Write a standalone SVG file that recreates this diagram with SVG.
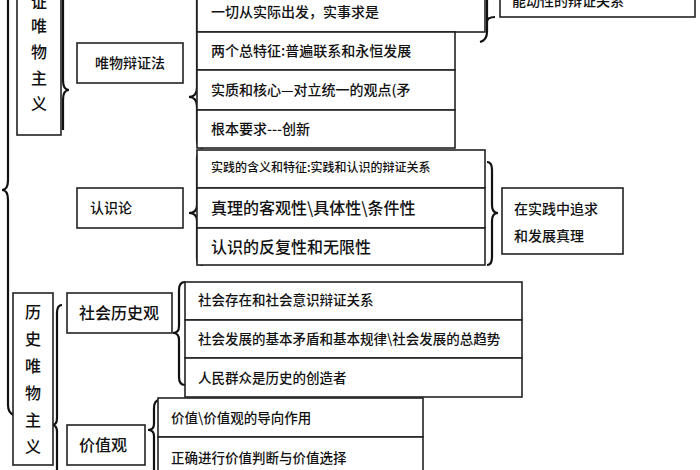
<svg xmlns="http://www.w3.org/2000/svg" width="700" height="470" viewBox="0 0 700 470">
<style>
.b{fill:#fff;stroke:#222;stroke-width:1.6}
.br{fill:none;stroke:#111;stroke-width:2.2}
text{font-family:"Noto Sans CJK SC","Noto Sans",sans-serif;fill:#111;font-size:14px;font-weight:500}
.s{font-size:12px}.m{font-size:13.5px}.l{font-size:16px}
</style>
<rect width="700" height="470" fill="#fff"/>
<g id="connectors">
<path class="br" d="M8,-5 V180 Q8,190 2,190 Q8,190 8,200 V405 Q8,413 14,415"/>
<path class="br" d="M63,-5 V80 Q63,90 69,90 Q63,90 63,100 V130"/>
<path class="br" d="M197,-5 V87 Q197,97 189,97 Q197,97 197,107 V140 Q197,148 203,148"/>
<path class="br" d="M197,158 Q197,152 203,152 M197,158 V205 Q197,213 189,213 Q197,213 197,221 V258 Q197,265 203,265"/>
<path class="br" d="M487,-5 V32 Q487,40 480,42 M487,22 Q487,17 495,17"/>
<path class="br" d="M487,162 Q492,162 492,170 V205 Q492,213 498,213 Q492,213 492,221 V257 Q492,265 487,265"/>
<path class="br" d="M62,305 Q57,305 57,313 V418 Q57,425 52,425 Q57,425 57,432 V470"/>
<path class="br" d="M185,282 Q179,282 179,290 V326 Q179,333 173,333 Q179,333 179,340 V377 Q179,385 185,385"/>
<path class="br" d="M160,400 Q154,400 154,408 V424 Q154,430 148,430 Q154,430 154,436 V470"/>
</g>
<g id="n-dm"><rect class="b" x="17" y="-10" width="44" height="145"/>
<text class="l" x="39" y="8" text-anchor="middle">证</text><text class="l" x="39" y="32" text-anchor="middle">唯</text><text class="l" x="39" y="58" text-anchor="middle">物</text><text class="l" x="39" y="84" text-anchor="middle">主</text><text class="l" x="39" y="110" text-anchor="middle">义</text></g>
<g id="n-wwbzf"><rect class="b" x="77" y="43" width="106" height="40"/><text x="130" y="68" text-anchor="middle">唯物辩证法</text></g>
<g id="n-rsl"><rect class="b" x="77" y="188" width="106" height="40"/><text x="90" y="213">认识论</text></g>
<g id="n-top"><rect class="b" x="500" y="-20" width="195" height="37"/><text x="512" y="6">能动性的辩证关系</text></g>
<g id="n-r1"><rect class="b" x="197" y="-8" width="288" height="40"/><text x="211" y="17">一切从实际出发，实事求是</text></g>
<g id="n-r2"><rect class="b" x="197" y="32" width="258" height="38"/><text x="211" y="56">两个总特征:普遍联系和永恒发展</text></g>
<g id="n-r3"><rect class="b" x="197" y="70" width="258" height="40"/><text x="211" y="95">实质和核心—对立统一的观点(矛</text></g>
<g id="n-r4"><rect class="b" x="197" y="110" width="258" height="38"/><text x="211" y="134">根本要求---创新</text></g>
<g id="n-r5"><rect class="b" x="197" y="150" width="288" height="38"/><text class="s" x="211" y="172">实践的含义和特征:实践和认识的辩证关系</text></g>
<g id="n-r6"><rect class="b" x="197" y="188" width="288" height="40"/><text class="l" x="211" y="214">真理的客观性\具体性\条件性</text></g>
<g id="n-r7"><rect class="b" x="197" y="228" width="288" height="37"/><text class="l" x="211" y="253">认识的反复性和无限性</text></g>
<g id="n-zl"><rect class="b" x="502" y="188" width="121" height="66"/><text x="514" y="214">在实践中追求</text><text x="514" y="241">和发展真理</text></g>
<g id="n-ls"><rect class="b" x="13" y="293" width="40" height="172"/>
<text class="l" x="33" y="318" text-anchor="middle">历</text><text class="l" x="33" y="345" text-anchor="middle">史</text><text class="l" x="33" y="372" text-anchor="middle">唯</text><text class="l" x="33" y="399" text-anchor="middle">物</text><text class="l" x="33" y="426" text-anchor="middle">主</text><text class="l" x="33" y="453" text-anchor="middle">义</text></g>
<g id="n-shlsg"><rect class="b" x="67" y="293" width="105" height="40"/><text class="l" x="79" y="319">社会历史观</text></g>
<g id="n-jzg"><rect class="b" x="67" y="425" width="78" height="40"/><text class="l" x="79" y="451">价值观</text></g>
<g id="n-s1"><rect class="b" x="185" y="282" width="337" height="38"/><text class="m" x="198" y="305">社会存在和社会意识辩证关系</text></g>
<g id="n-s2"><rect class="b" x="185" y="320" width="337" height="38"/><text class="m" x="198" y="344">社会发展的基本矛盾和基本规律\社会发展的总趋势</text></g>
<g id="n-s3"><rect class="b" x="185" y="358" width="337" height="39"/><text class="m" x="198" y="383">人民群众是历史的创造者</text></g>
<g id="n-v1"><rect class="b" x="158" y="398" width="265" height="39"/><text class="m" x="171" y="423">价值\价值观的导向作用</text></g>
<g id="n-v2"><rect class="b" x="158" y="437" width="265" height="40"/><text class="m" x="171" y="463">正确进行价值判断与价值选择</text></g>
</svg>
